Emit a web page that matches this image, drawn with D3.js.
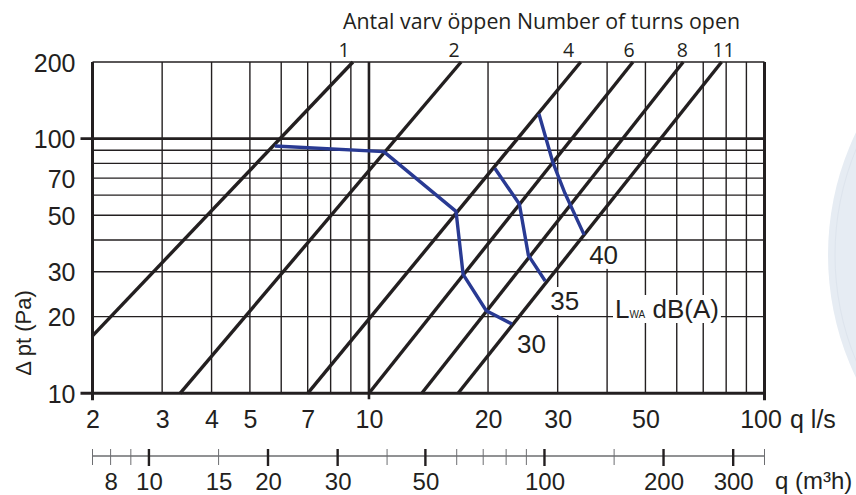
<!DOCTYPE html>
<html>
<head>
<meta charset="utf-8">
<script src="https://cdn.jsdelivr.net/npm/d3@7"></script>
<style>
  html, body { margin: 0; padding: 0; background: #fff; }
  svg { display: block; }
  .num { font-family: "Liberation Sans", Arial, sans-serif; font-size: 25px; fill: #231f20; }
  .turn { font-family: "Open Sans", "Noto Sans", sans-serif; fill: #231f20; }
</style>
</head>
<body>
<svg id="chart" width="856" height="495"></svg>
<script>
// number of turns open: straight lines from (q, dp) start to q at 200 Pa
const turnLabels = ['1', '2', '4', '6', '8', '11'];
const turnStartQ = [2, 3.33, 7.0, 10, 13.6, 16.8];
const turnStartDp = [16.8, 10, 10, 10, 10, 10];
const turnEndQ = [9.11, 17.1, 34.3, 46.5, 62.3, 77.9];

// sound power curves LwA dB(A), [q l/s, dp Pa]
const soundLabels = ['30', '35', '40'];
const dB30 = [[5.78, 93.6], [10.9, 88.9], [16.6, 51.8], [17.3, 29.3], [19.8, 21.1], [23.0, 18.7]];
const dB35 = [[20.8, 76.5], [24.0, 55.4], [25.3, 34.8], [27.9, 27.6]];
const dB40 = [[26.9, 125], [29.2, 80.3], [31.3, 61.0], [35.0, 41.9]];

// grid and ticks
const qGrid = [3, 4, 5, 6, 7, 8, 9, 20, 30, 40, 50, 60, 70, 80, 90];
const dpGrid = [20, 30, 40, 50, 60, 70, 80, 90];
const qTicks = [2, 3, 4, 5, 7, 10, 20, 30, 50, 100];
const dpTicks = [10, 20, 30, 50, 70, 100, 200];
const m3hMajor = [10, 20, 30, 50, 100, 200, 300];
const m3hMinor = [8, 9, 15, 40, 60, 70, 80, 90, 150];
const m3hLabels = [8, 10, 15, 20, 30, 50, 100, 200, 300];

const ink = '#231f20';
const blue = '#293a93';

const svg = d3.select('#chart');

const x = d3.scaleLog().domain([2, 100]).range([92.5, 764.5]);
const y = d3.scaleLog().domain([10, 200]).range([393.3, 62]);
const xm = d3.scaleLog().domain([7.2, 360]).range([92.5, 764.5]);
const line = d3.line().x(d => x(d[0])).y(d => y(d[1]));

// decorative arc on the right edge
svg.append('circle')
  .attr('cx', 1111).attr('cy', 255).attr('r', 283)
  .attr('fill', '#e6ecf3');
svg.append('circle')
  .attr('cx', 1111).attr('cy', 255).attr('r', 276)
  .attr('fill', 'none').attr('stroke', '#dde4ed').attr('stroke-width', 1);

const plot = svg.append('g');

// grid
plot.selectAll('line.vgrid')
  .data(qGrid)
  .enter()
  .append('line')
  .classed('vgrid', true)
  .attr('x1', d => x(d)).attr('x2', d => x(d))
  .attr('y1', y(200)).attr('y2', y(10))
  .attr('stroke', ink).attr('stroke-width', 1.4);

plot.selectAll('line.hgrid')
  .data(dpGrid)
  .enter()
  .append('line')
  .classed('hgrid', true)
  .attr('x1', x(2)).attr('x2', x(100))
  .attr('y1', d => y(d)).attr('y2', d => y(d))
  .attr('stroke', ink).attr('stroke-width', 1.4);

// heavier lines at 10 l/s and 100 Pa
plot.append('line')
  .attr('x1', x(10)).attr('x2', x(10))
  .attr('y1', y(200)).attr('y2', y(10) + 6)
  .attr('stroke', ink).attr('stroke-width', 2.6);
plot.append('line')
  .attr('x1', x(2) - 12).attr('x2', x(100))
  .attr('y1', y(100)).attr('y2', y(100))
  .attr('stroke', ink).attr('stroke-width', 2.6);

// frame
plot.append('line')
  .attr('x1', x(2)).attr('x2', x(100))
  .attr('y1', y(200)).attr('y2', y(200))
  .attr('stroke', ink).attr('stroke-width', 1.6);
plot.append('line')
  .attr('x1', x(2) - 12).attr('x2', x(100) + 1.5)
  .attr('y1', y(10)).attr('y2', y(10))
  .attr('stroke', ink).attr('stroke-width', 3);
plot.append('line')
  .attr('x1', x(2)).attr('x2', x(2))
  .attr('y1', y(200)).attr('y2', y(10) + 7)
  .attr('stroke', ink).attr('stroke-width', 3);
plot.append('line')
  .attr('x1', x(100)).attr('x2', x(100))
  .attr('y1', y(200)).attr('y2', y(10) + 7)
  .attr('stroke', ink).attr('stroke-width', 3);

// turn lines
const turnData = turnLabels.map((t, i) => ({
  label: t,
  pts: [[turnStartQ[i], turnStartDp[i]], [turnEndQ[i], 200]],
}));

plot.selectAll('path.turn')
  .data(turnData)
  .enter()
  .append('path')
  .attr('d', d => line(d.pts))
  .attr('fill', 'none')
  .attr('stroke', ink)
  .attr('stroke-width', 3.4);

const turnDx = [-9, -7, -12, -4, -1, 2];
svg.selectAll('text.turnlabel')
  .data(turnData)
  .enter()
  .append('text')
  .classed('turn', true)
  .attr('x', (d, i) => x(d.pts[1][0]) + turnDx[i])
  .attr('y', 56.5)
  .attr('text-anchor', 'middle')
  .style('font-size', '19.5px')
  .text(d => d.label);

svg.append('text')
  .classed('turn', true)
  .attr('x', 343)
  .attr('y', 29)
  .attr('textLength', 397)
  .attr('lengthAdjust', 'spacingAndGlyphs')
  .style('font-size', '21.5px')
  .text('Antal varv öppen Number of turns open');

// sound curves
const soundData = [dB30, dB35, dB40].map((pts, i) => ({ label: soundLabels[i], pts }));

plot.selectAll('path.sound')
  .data(soundData)
  .enter()
  .append('path')
  .attr('d', d => line(d.pts))
  .attr('fill', 'none')
  .attr('stroke', blue)
  .attr('stroke-width', 3.4)
  .attr('stroke-linejoin', 'round');

// labels with white backing
const addBacked = (sel) => {
  sel.each(function () {
    const b = this.getBBox();
    d3.select(this.parentNode)
      .insert('rect', () => this)
      .attr('x', b.x - 2).attr('y', b.y + 1)
      .attr('width', b.width + 4).attr('height', b.height - 2)
      .attr('fill', '#fff');
  });
};

const soundLabelG = svg.append('g');
soundLabelG.selectAll('text')
  .data(soundData)
  .enter()
  .append('text')
  .classed('num', true)
  .style('font-size', '26px')
  .attr('x', d => x(d.pts[d.pts.length - 1][0]) + 5)
  .attr('y', d => y(d.pts[d.pts.length - 1][1]) + 29)
  .text(d => d.label)
  .call(addBacked);

const legendG = svg.append('g');
const legend = legendG.append('text')
  .classed('num', true)
  .style('font-size', '26px')
  .attr('x', 615)
  .attr('y', 318);
legend.append('tspan').text('L');
legend.append('tspan').style('font-size', '10px').text('WA');
legend.append('tspan').text(' dB(A)');
legend.call(addBacked);

// axes
const yAxis = svg.append('g')
  .attr('transform', `translate(${x(2)},0)`)
  .call(d3.axisLeft(y).tickValues(dpTicks).tickFormat(d3.format('d')).tickSize(0).tickPadding(17));
yAxis.select('.domain').remove();
yAxis.selectAll('text').attr('class', 'num').attr('dy', '0.36em');

const xAxis = svg.append('g')
  .attr('transform', `translate(0,${y(10)})`)
  .call(d3.axisBottom(x).tickValues(qTicks).tickFormat(d3.format('d')).tickSize(0).tickPadding(17));
xAxis.select('.domain').remove();
xAxis.selectAll('text').attr('class', 'num').attr('dy', '0.71em');
xAxis.selectAll('.tick')
  .filter(d => d === 100)
  .select('text')
  .attr('dx', '-4px');

svg.append('text')
  .classed('num', true)
  .attr('x', 790)
  .attr('y', 428)
  .text('q l/s');

svg.append('text')
  .classed('num', true)
  .style('font-size', '22px')
  .attr('transform', 'translate(31,333) rotate(-90)')
  .attr('text-anchor', 'middle')
  .text('Δ pt (Pa)');

// m3/h scale
const mAxisY = 456;
svg.append('line')
  .attr('x1', xm(7.2)).attr('x2', xm(360))
  .attr('y1', mAxisY).attr('y2', mAxisY)
  .attr('stroke', '#6d6e71').attr('stroke-width', 1.3);

svg.selectAll('line.mminor')
  .data(m3hMinor.concat([7.2, 360]))
  .enter()
  .append('line')
  .attr('x1', d => xm(d)).attr('x2', d => xm(d))
  .attr('y1', mAxisY - 7).attr('y2', mAxisY + 9)
  .attr('stroke', '#6d6e71').attr('stroke-width', 1);

svg.selectAll('line.mmajor')
  .data(m3hMajor)
  .enter()
  .append('line')
  .attr('x1', d => xm(d)).attr('x2', d => xm(d))
  .attr('y1', mAxisY - 7).attr('y2', mAxisY + 10)
  .attr('stroke', ink).attr('stroke-width', 2.4);

const mAxis = svg.append('g')
  .attr('transform', `translate(0,${mAxisY})`)
  .call(d3.axisBottom(xm).tickValues(m3hLabels).tickFormat(d3.format('d')).tickSize(0).tickPadding(17));
mAxis.select('.domain').remove();
mAxis.selectAll('text').attr('class', 'num').style('font-size', '24px').attr('dy', '0.71em');

svg.append('text')
  .classed('num', true)
  .style('font-size', '24px')
  .attr('x', 775)
  .attr('y', 489)
  .text('q (m³h)');
</script>
</body>
</html>
